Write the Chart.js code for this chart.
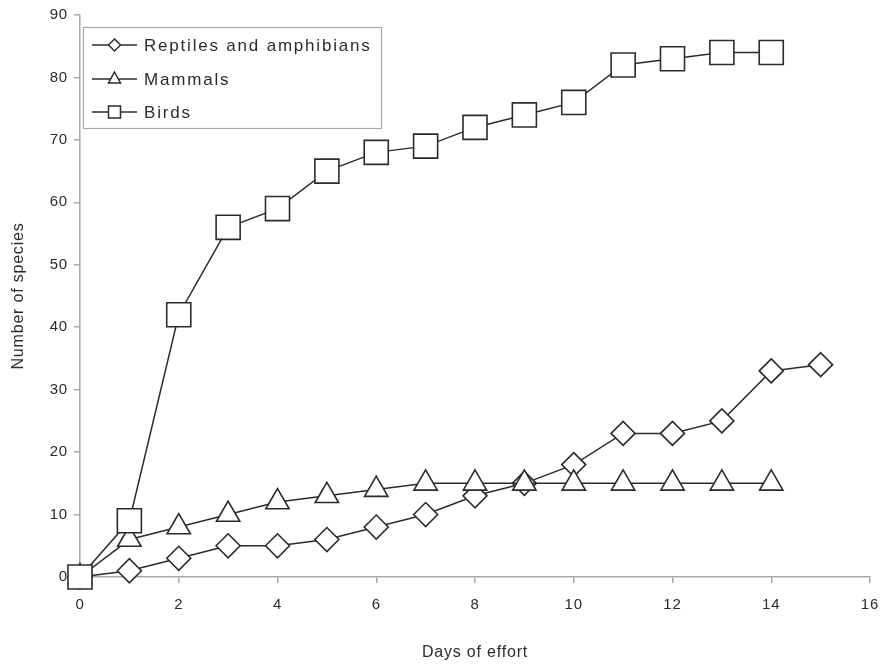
<!DOCTYPE html>
<html>
<head>
<meta charset="utf-8">
<script src="https://cdn.jsdelivr.net/npm/chart.js@4"></script>
<style>
  html, body { margin: 0; padding: 0; background: #fff; overflow: hidden; }
  canvas { display: block; }
</style>
</head>
<body>
<canvas id="speciesChart" width="884" height="664"></canvas>
<script>
let days = [0, 1, 2, 3, 4, 5, 6, 7, 8, 9, 10, 11, 12, 13, 14, 15];
let reptiles = [0, 1, 3, 5, 5, 6, 8, 10, 13, 15, 18, 23, 23, 25, 33, 34];
let mammals = [0, 6, 8, 10, 12, 13, 14, 15, 15, 15, 15, 15, 15, 15, 15];
let birds = [0, 9, 42, 56, 59, 65, 68, 69, 72, 74, 76, 82, 83, 84, 84];
let seriesNames = ['Reptiles and amphibians', 'Mammals', 'Birds'];
let xTicks = [0, 2, 4, 6, 8, 10, 12, 14, 16];

const ink = '#2b2b2b';
const axisGray = '#a8a8a8';
const fontFamily = '"Liberation Sans", Arial, sans-serif';

function toPoints(values) {
  return values.map((v, i) => ({ x: days[i], y: v }));
}

// small line+marker legend box in the top-left corner of the plot
const boxLegend = {
  id: 'boxLegend',
  beforeDraw(chart) {
    chart.ctx.letterSpacing = '0.8px';
  },
  afterDraw(chart) {
    const c = chart.ctx;
    const left = 83, top = 27, right = 381, bottom = 128;
    const rows = [45, 79, 112];
    const shapes = ['diamond', 'triangle', 'square'];
    c.save();
    c.fillStyle = '#fff';
    c.fillRect(left, top, right - left, bottom - top);
    c.strokeStyle = axisGray;
    c.lineWidth = 1.2;
    c.strokeRect(left + 0.5, top + 0.5, right - left, bottom - top);
    c.font = '17px ' + fontFamily;
    c.letterSpacing = '1.8px';
    c.textBaseline = 'middle';
    rows.forEach((y, i) => {
      c.strokeStyle = ink;
      c.lineWidth = 1.5;
      c.beginPath();
      c.moveTo(92, y);
      c.lineTo(137, y);
      c.stroke();
      const cx = 114.5;
      c.beginPath();
      if (shapes[i] === 'diamond') {
        c.moveTo(cx - 6, y); c.lineTo(cx, y - 6); c.lineTo(cx + 6, y); c.lineTo(cx, y + 6);
      } else if (shapes[i] === 'triangle') {
        c.moveTo(cx, y - 7); c.lineTo(cx + 6, y + 4); c.lineTo(cx - 6, y + 4);
      } else {
        c.rect(cx - 6, y - 6, 12, 12);
      }
      c.closePath();
      c.fillStyle = '#fff';
      c.fill();
      c.stroke();
      c.fillStyle = ink;
      c.fillText(seriesNames[i], 144, y + 1);
    });
    c.restore();
  }
};

const ctx = document.getElementById('speciesChart').getContext('2d');

const speciesChart = new Chart(ctx,
  {
    type: 'line',
    data:
    {
      datasets:
        [
          {
            label: seriesNames[0],
            data: toPoints(reptiles),
            pointStyle: 'rectRot',
            pointRadius: 12,
            order: 3
          },
          {
            label: seriesNames[1],
            data: toPoints(mammals),
            pointStyle: 'triangle',
            pointRadius: 13.5,
            order: 2
          },
          {
            label: seriesNames[2],
            data: toPoints(birds),
            pointStyle: 'rect',
            pointRadius: 17,
            order: 1
          }
        ].map(ds => Object.assign(ds, {
          borderColor: ink,
          borderWidth: 1.5,
          pointBorderColor: ink,
          pointBackgroundColor: '#fff',
          pointBorderWidth: 1.6,
          pointHoverRadius: ds.pointRadius,
          tension: 0,
          clip: false
        }))
    },
    options:
    {
      responsive: false,
      animation: false,
      layout:
      {
        autoPadding: false,
        padding: { top: 15, right: 14, left: 0, bottom: 0 }
      },
      plugins:
      {
        legend: { display: false },
        tooltip: { enabled: false }
      },
      scales:
      {
        x:
        {
          type: 'linear',
          min: 0,
          max: 16,
          afterFit: (scale) => {
            scale.height = 87;
            scale.paddingLeft = 0;
            scale.paddingRight = 0;
          },
          afterBuildTicks: (scale) => { scale.ticks = xTicks.map(v => ({ value: v })); },
          border: { color: axisGray, width: 1.5 },
          grid: { drawOnChartArea: false, color: axisGray, tickLength: 6, lineWidth: 1.5 },
          ticks: { color: ink, padding: 13, font: { family: fontFamily, size: 15 } },
          title:
          {
            display: true,
            text: 'Days of effort',
            color: ink,
            padding: { top: 0, bottom: 2 },
            font: { family: fontFamily, size: 16 }
          }
        },
        y:
        {
          min: 0,
          max: 90,
          afterFit: (scale) => { scale.width = 80; },
          border: { color: axisGray, width: 1.5 },
          grid: { drawOnChartArea: false, color: axisGray, tickLength: 6, lineWidth: 1.5 },
          ticks: { stepSize: 10, color: ink, padding: 6, font: { family: fontFamily, size: 15 } },
          title:
          {
            display: true,
            text: 'Number of species',
            color: ink,
            padding: { top: 9, bottom: 0 },
            font: { family: fontFamily, size: 16 }
          }
        }
      }
    },
    plugins: [boxLegend]
  })
</script>
</body>
</html>
